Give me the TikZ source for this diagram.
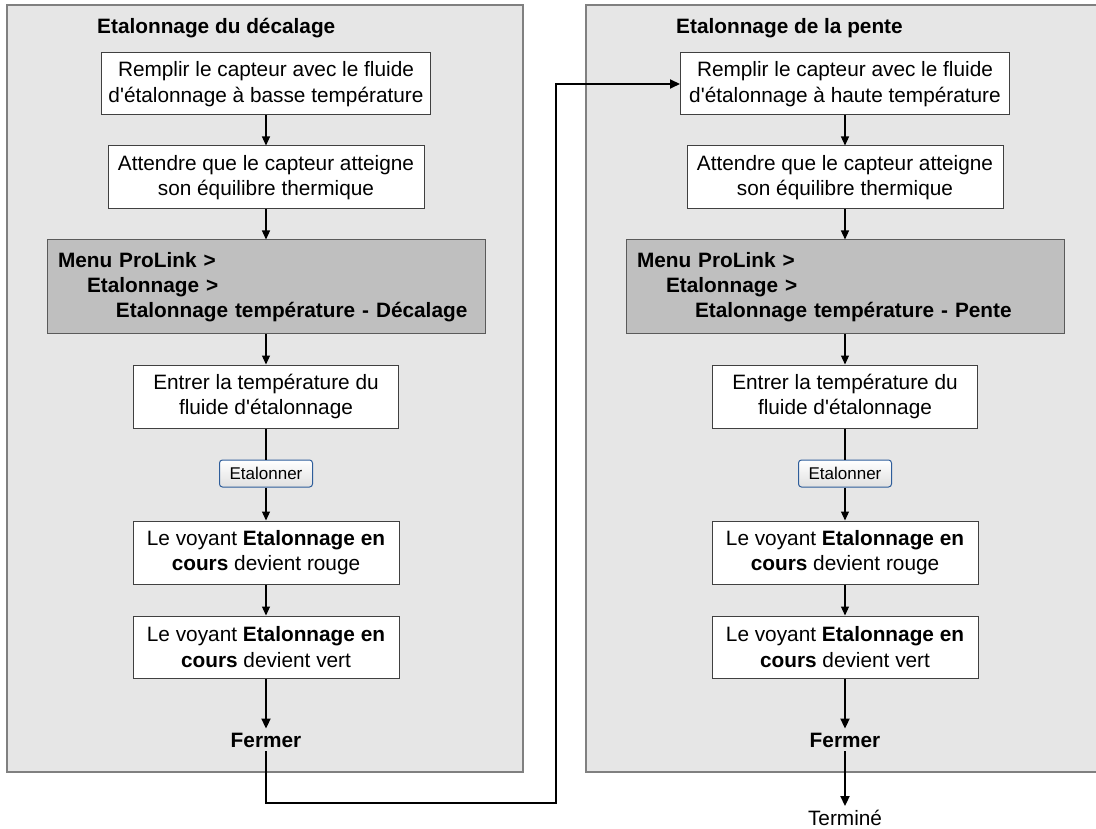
\documentclass[tikz,border=0pt]{standalone}
\usepackage{fontspec}
\setmainfont{Liberation Sans}[Ligatures=TeXOff]
\usetikzlibrary{arrows.meta, positioning}
\definecolor{PanelGray}{HTML}{E6E6E6}
\definecolor{PanelEdge}{HTML}{808080}
\definecolor{MenuGray}{HTML}{BFBFBF}
\definecolor{MenuEdge}{HTML}{5A5A5A}
\definecolor{BoxEdge}{HTML}{404040}
\definecolor{ButtonBlue}{HTML}{2E5D9A}

\begin{document}
\begin{tikzpicture}[
    x=1pt, y=-1pt,
    every node/.style={font=\fontsize{20.8}{25.5}\selectfont},
    panel/.style={draw=PanelEdge, line width=1.5pt, fill=PanelGray},
    paneltitle/.style={anchor=base west, inner sep=0pt, font=\fontsize{20.8}{25.5}\selectfont\bfseries},
    stepbox/.style={rectangle, draw=BoxEdge, line width=1pt, fill=white, align=center, inner sep=0pt, minimum height=62pt},
    menubox/.style={rectangle, draw=MenuEdge, line width=1pt, fill=MenuGray, align=left, minimum width=438pt, minimum height=94pt, text width=416pt, inner xsep=11pt, font=\fontsize{20.8}{25}\selectfont\bfseries},
    button/.style={rectangle, rounded corners=3pt, draw=ButtonBlue, line width=1pt, top color=white, bottom color=black!12, minimum width=93pt, minimum height=27pt, inner sep=0pt, font=\fontsize{17}{20}\selectfont},
    endlabel/.style={inner sep=4pt},
    arrow/.style={-{Triangle[length=9pt, width=8pt]}, line width=1.2pt},
    link/.style={line width=1.2pt},
    thickarrow/.style={-{Triangle[length=10pt, width=9pt]}, line width=2pt}
  ]
    \useasboundingbox (0,0) rectangle (1096,829);
    % panels
    \draw[panel] (7,5) rectangle (523,772);
    \draw[panel] (586,5) rectangle (1102,772);

    % offset calibration
    \node[paneltitle] (titleL) at (97,34) {Etalonnage du décalage};
    \node[stepbox, minimum width=329pt] (b1L) at (266,84) {Remplir le capteur avec le fluide\\d'étalonnage à basse température};
    \node[stepbox, minimum width=316pt, minimum height=63pt] (b2L) at (266,177.5) {Attendre que le capteur atteigne\\son équilibre thermique};
    \node[menubox] (menuL) at (266,287) {Menu ProLink >\\\hspace*{29pt}Etalonnage >\\\hspace*{58pt}Etalonnage température - Décalage};
    \node[stepbox, minimum width=265pt, minimum height=63pt] (entrerL) at (266,396.5) {Entrer la température du\\fluide d'étalonnage};
    \node[button] (etalL) at (266,473.5) {Etalonner};
    \node[stepbox, minimum width=266pt, minimum height=63pt] (rougeL) at (266,552.5) {Le voyant \textbf{Etalonnage en}\\\textbf{cours} devient rouge};
    \node[stepbox, minimum width=266pt] (vertL) at (266,647) {Le voyant \textbf{Etalonnage en}\\\textbf{cours} devient vert};
    \node[endlabel, font=\fontsize{20.8}{25.5}\selectfont\bfseries] (fermerL) at (266,740) {Fermer};

    % slope calibration
    \node[paneltitle] (titleR) at (676,34) {Etalonnage de la pente};
    \node[stepbox, minimum width=329pt] (b1R) at (845,84) {Remplir le capteur avec le fluide\\d'étalonnage à haute température};
    \node[stepbox, minimum width=316pt, minimum height=63pt] (b2R) at (845,177.5) {Attendre que le capteur atteigne\\son équilibre thermique};
    \node[menubox] (menuR) at (845,287) {Menu ProLink >\\\hspace*{29pt}Etalonnage >\\\hspace*{58pt}Etalonnage température - Pente};
    \node[stepbox, minimum width=265pt, minimum height=63pt] (entrerR) at (845,396.5) {Entrer la température du\\fluide d'étalonnage};
    \node[button] (etalR) at (845,473.5) {Etalonner};
    \node[stepbox, minimum width=266pt, minimum height=63pt] (rougeR) at (845,552.5) {Le voyant \textbf{Etalonnage en}\\\textbf{cours} devient rouge};
    \node[stepbox, minimum width=266pt] (vertR) at (845,647) {Le voyant \textbf{Etalonnage en}\\\textbf{cours} devient vert};
    \node[endlabel, font=\fontsize{20.8}{25.5}\selectfont\bfseries] (fermerR) at (845,740) {Fermer};
    \node[endlabel] (termine) at (845,818) {Terminé};

    \coordinate (turnA) at (556,803);

    \draw[arrow] (b1L) -- (b2L);
    \draw[arrow] (b2L) -- (menuL);
    \draw[arrow] (menuL) -- (entrerL);
    \draw[link] (entrerL) -- (etalL);
    \draw[arrow] (etalL) -- (rougeL);
    \draw[arrow] (rougeL) -- (vertL);
    \draw[thickarrow] (vertL) -- (fermerL);
    \draw[thickarrow] (fermerL.south) |- (turnA) |- (b1R.west);

    \draw[arrow] (b1R) -- (b2R);
    \draw[arrow] (b2R) -- (menuR);
    \draw[arrow] (menuR) -- (entrerR);
    \draw[link] (entrerR) -- (etalR);
    \draw[arrow] (etalR) -- (rougeR);
    \draw[arrow] (rougeR) -- (vertR);
    \draw[thickarrow] (vertR) -- (fermerR);
    \draw[thickarrow] (fermerR) -- (termine);
  \end{tikzpicture}
\end{document}
